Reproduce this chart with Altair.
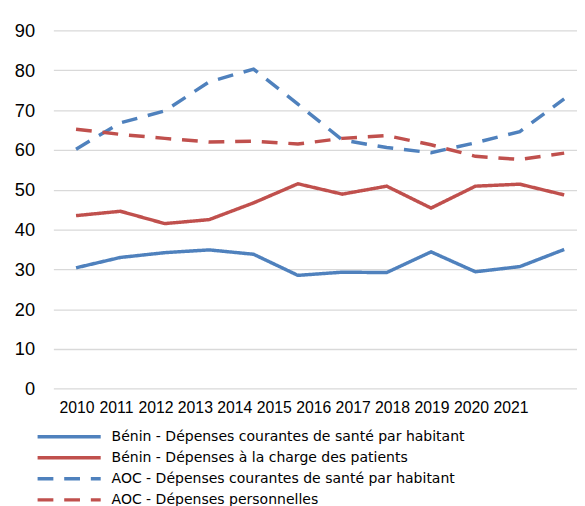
import altair as alt
import pandas as pd

years = list(range(2010, 2022))
series_names = [
    "Bénin - Dépenses courantes de santé par habitant",
    "Bénin - Dépenses à la charge des patients",
    "AOC - Dépenses courantes de santé par habitant",
    "AOC - Dépenses personnelles",
]
benin_cur = [30.4, 33.0, 34.2, 34.9, 33.8, 28.5, 29.3, 29.2, 34.4, 29.4, 30.7, 35.0]
benin_oop = [43.5, 44.6, 41.5, 42.5, 46.7, 51.5, 48.9, 50.9, 45.4, 50.9, 51.4, 48.7]
aoc_cur = [60.2, 66.8, 69.8, 77.1, 80.3, 71.5, 62.5, 60.6, 59.3, 61.8, 64.6, 72.8]
aoc_oop = [65.2, 63.9, 62.9, 62.0, 62.2, 61.5, 62.9, 63.6, 61.3, 58.4, 57.6, 59.2]
y_ticks = list(range(0, 91, 10))

colors = ["#4F81BD", "#C0504D", "#4F81BD", "#C0504D"]
dashes = [[1, 0], [1, 0], [16, 11], [16, 11]]

rows = []
for name, vals in zip(series_names, [benin_cur, benin_oop, aoc_cur, aoc_oop]):
    for yr, v in zip(years, vals):
        rows.append({"year": yr, "value": v, "series": name})
df = pd.DataFrame(rows)
label_df = pd.DataFrame({"year": years})
legend_df = pd.DataFrame({"series": series_names})

W = 531
H = 363.4

color_enc = alt.Color("series:N", scale=alt.Scale(domain=series_names, range=colors), legend=None)
dash_enc = alt.StrokeDash("series:N", scale=alt.Scale(domain=series_names, range=dashes), legend=None)

lines = alt.Chart(df).mark_line(strokeWidth=3.5).encode(
    x=alt.X("year:Q", scale=alt.Scale(domain=[2009.489, 2021.289], nice=False, zero=False), axis=None),
    y=alt.Y(
        "value:Q",
        scale=alt.Scale(domain=[0, 90], nice=False),
        axis=alt.Axis(
            values=y_ticks,
            title=None,
            grid=True,
            gridColor="#D9D9D9",
            gridWidth=1.3,
            domain=False,
            ticks=False,
            labelFont="Liberation Sans",
            labelFontSize=18.5,
            labelColor="#000000",
            labelPadding=19,
        ),
    ),
    color=color_enc,
    strokeDash=dash_enc,
)

labels = alt.Chart(label_df).mark_point(opacity=0).encode(
    x=alt.X(
        "year:Q",
        scale=alt.Scale(domain=[2009.4125, 2022.6875], nice=False, zero=False),
        axis=alt.Axis(
            orient="bottom",
            values=years,
            format="d",
            title=None,
            ticks=False,
            domain=False,
            grid=False,
            labelFont="Liberation Sans",
            labelFontSize=16,
            labelColor="#000000",
            labelPadding=11,
            labelOverlap=False,
            labelFlush=False,
        ),
    )
)

legend_y = alt.Y(
    "series:N",
    scale=alt.Scale(type="point", domain=series_names, range=[412, 476], padding=0),
    axis=None,
)

legend_rules = alt.Chart(legend_df).mark_rule(strokeWidth=3.5).encode(
    x=alt.value(-16),
    x2=alt.value(48),
    y=legend_y,
    color=color_enc,
    strokeDash=dash_enc,
)

legend_text = alt.Chart(legend_df).mark_text(
    align="left", baseline="middle", font="DejaVu Sans", fontSize=14.2, color="#000000"
).encode(
    x=alt.value(59),
    y=legend_y,
    text="series:N",
)

chart = (
    alt.layer(lines, labels, legend_rules, legend_text)
    .resolve_scale(x="independent", y="independent")
    .properties(
        width=W,
        height=H,
        padding={"left": 46, "top": 19.3, "right": 0, "bottom": 115.3},
        autosize=alt.AutoSizeParams(type="none"),
        background="white",
    )
    .configure_view(stroke=None)
)

chart.save("out.html", embed_options={"renderer": "svg", "actions": False})
